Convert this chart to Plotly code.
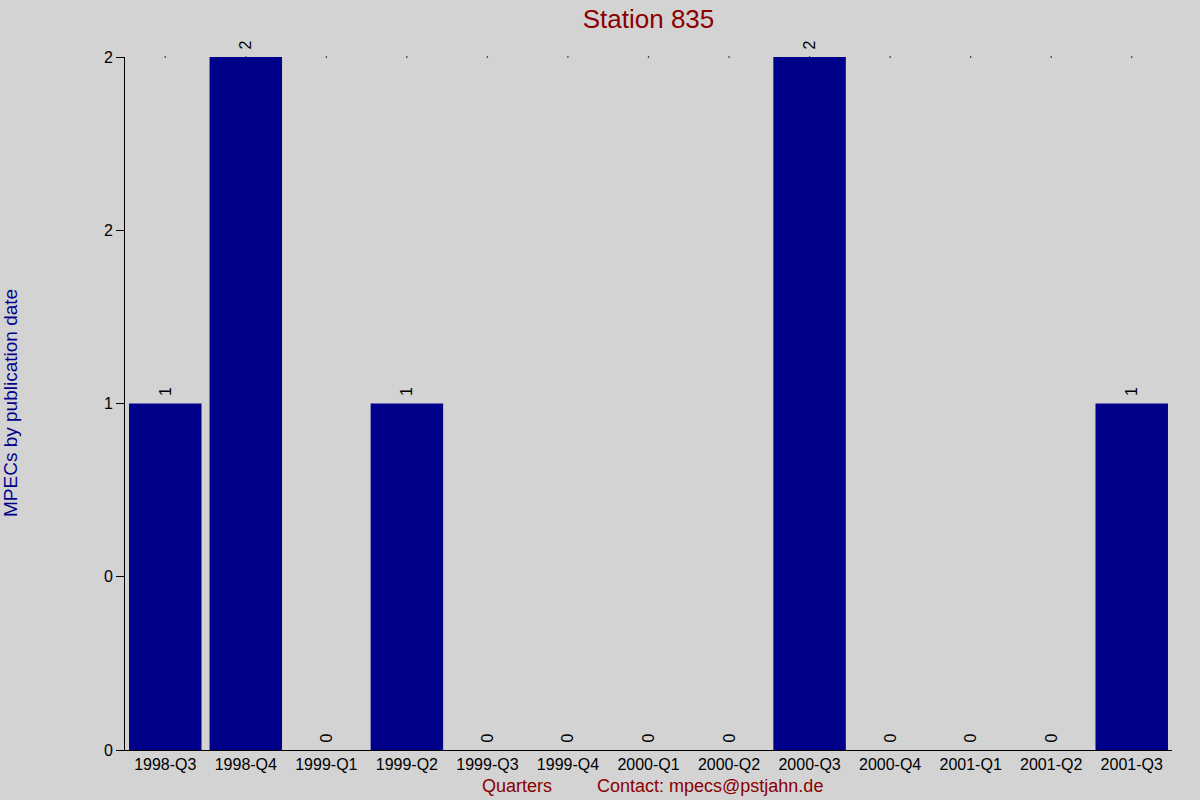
import plotly.graph_objects as go

quarters = ["1998-Q3", "1998-Q4", "1999-Q1", "1999-Q2", "1999-Q3", "1999-Q4", "2000-Q1",
            "2000-Q2", "2000-Q3", "2000-Q4", "2001-Q1", "2001-Q2", "2001-Q3"]
mpecs = [1, 2, 0, 1, 0, 0, 0, 0, 2, 0, 0, 0, 1]

y_tickvals = [0, 0.5, 1, 1.5, 2]
y_ticktext = ["0", "0", "1", "2", "2"]

L, R, T, B = 125, 28, 57, 50
pw, ph = 1200 - L - R, 800 - T - B

fig = go.Figure()
fig.add_trace(go.Bar(
    x=quarters, y=mpecs,
    marker=dict(color="#00008B", line=dict(width=0)),
    text=["\u00a0" + str(v) for v in mpecs],
    textposition="outside", textangle=-90, constraintext="none",
    textfont=dict(family="Liberation Sans, Arial", size=16, color="black"),
    cliponaxis=False,
))
# little dots along the top edge
fig.add_trace(go.Scatter(
    x=quarters, y=[max(mpecs)] * len(quarters), mode="markers",
    marker=dict(size=1.5, color="black"), cliponaxis=False, hoverinfo="skip",
))

fig.update_layout(
    width=1200, height=800,
    paper_bgcolor="#D3D3D3", plot_bgcolor="#D3D3D3",
    margin=dict(l=L, r=R, t=T, b=B),
    bargap=0.1, showlegend=False,
    font=dict(family="Liberation Sans, Arial", size=16, color="black"),
    title=dict(text="Station 835", x=0.5, xref="paper", y=0.977, yanchor="middle",
               font=dict(size=26, color="#8B0000")),
    xaxis=dict(range=[-0.5, len(quarters) - 0.5], showgrid=False, zeroline=False,
               showline=True, linecolor="black", linewidth=1, ticks="",
               tickfont=dict(size=16), automargin=False),
    yaxis=dict(range=[0, 2], tickvals=y_tickvals, ticktext=y_ticktext,
               showgrid=False, zeroline=False, showline=True, linecolor="black",
               linewidth=1, ticks="outside", ticklen=8, tickcolor="black",
               tickfont=dict(size=16), automargin=False),
    annotations=[
        dict(text="MPECs by publication date", xref="paper", yref="paper",
             x=(10 - L) / pw, y=(T + ph / 2 - 403) / ph + 0.5, textangle=-90,
             showarrow=False, xanchor="center", yanchor="middle",
             font=dict(size=19, color="#00008B")),
        dict(text="Quarters", xref="paper", yref="paper", x=(517 - L) / pw, y=-(786 - 750) / ph,
             showarrow=False, xanchor="center", yanchor="middle",
             font=dict(size=18, color="#8B0000")),
        dict(text="Contact: mpecs@pstjahn.de", xref="paper", yref="paper",
             x=(710 - L) / pw, y=-(786 - 750) / ph,
             showarrow=False, xanchor="center", yanchor="middle",
             font=dict(size=18, color="#8B0000")),
    ],
)

fig.write_html("out.html", config={"displayModeBar": False},
               post_script="document.body.style.margin='0';")
